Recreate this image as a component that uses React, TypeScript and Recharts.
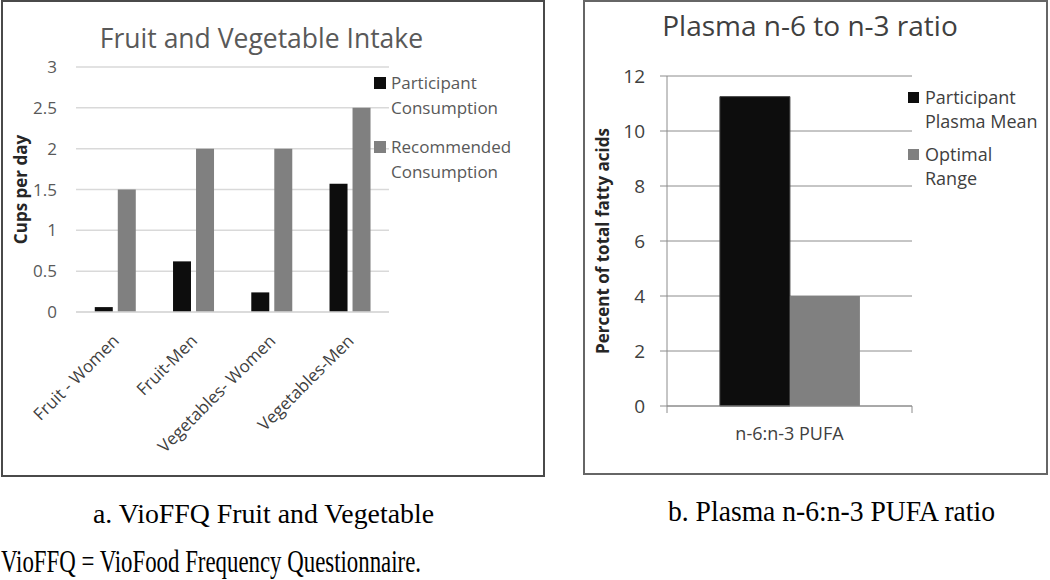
import React from "react";
import { BarChart, Bar, XAxis, YAxis, CartesianGrid, Legend } from "recharts";

// a. VioFFQ fruit and vegetable intake (cups per day)
const intakeCategories = ["Fruit - Women", "Fruit-Men", "Vegetables- Women", "Vegetables-Men"];
const intakeSeries = ["Participant Consumption", "Recommended Consumption"];
const participantCups = [0.06, 0.62, 0.24, 1.57];
const recommendedCups = [1.5, 2, 2, 2.5];
const cupTicks = [0, 0.5, 1, 1.5, 2, 2.5, 3];

// b. plasma n-6:n-3 ratio
const ratioCategories = ["n-6:n-3 PUFA"];
const ratioSeries = ["Participant Plasma Mean", "Optimal Range"];
const plasmaMean = [11.25];
const optimalRange = [4];
const ratioTicks = [0, 2, 4, 6, 8, 10, 12];

const intakeData = intakeCategories.map((name, i) => ({
  name,
  participant: participantCups[i],
  recommended: recommendedCups[i],
}));
const ratioData = ratioCategories.map((name, i) => ({
  name,
  mean: plasmaMean[i],
  optimal: optimalRange[i],
}));

const SANS = '"Open Sans", "DejaVu Sans", sans-serif';
const SERIF = '"Liberation Serif", "Times New Roman", serif';

type LegendOpts = {
  order: string[];
  fontSize: number;
  lineHeight: number;
  color: string;
  box: number;
  gap: number;
  textGap: number;
};

// two-line legend entries, split after the first word like the original
const makeLegend = (o: LegendOpts) => (props: any) => {
  const items = [...(props.payload ?? [])].sort(
    (a: any, b: any) => o.order.indexOf(String(a.value)) - o.order.indexOf(String(b.value))
  );
  return (
    <div style={{ fontFamily: SANS, fontSize: o.fontSize, lineHeight: `${o.lineHeight}px`, color: o.color, whiteSpace: "nowrap" }}>
      {items.map((item: any) => {
        const label = String(item.value);
        const cut = label.indexOf(" ");
        return (
          <div key={label} style={{ display: "flex", alignItems: "flex-start", marginBottom: o.gap }}>
            <span
              style={{
                width: o.box,
                height: o.box,
                background: item.color,
                marginTop: (o.lineHeight - o.box) / 2,
                marginRight: o.textGap,
                flexShrink: 0,
              }}
            />
            <span>
              {label.slice(0, cut)}
              <br />
              {label.slice(cut + 1)}
            </span>
          </div>
        );
      })}
    </div>
  );
};

const SlantTick = (props: any) => {
  const { x, y, payload } = props;
  return (
    <g transform={`translate(${x + 5},${y + 30}) rotate(-45)`}>
      <text x={0} y={0} textAnchor="end" fontFamily={SANS} fontSize={17} fill="#404040">
        {payload.value}
      </text>
    </g>
  );
};

// excel style: tick marks on the category edges, label in the middle
const EdgeTick = (props: any) => {
  const { x, y, payload, width, visibleTicksCount } = props;
  const half = width / (visibleTicksCount || 1) / 2;
  return (
    <g>
      <line x1={x - half} x2={x - half} y1={y} y2={y + 7} stroke="#8c8c8c" />
      <line x1={x + half} x2={x + half} y1={y} y2={y + 7} stroke="#8c8c8c" />
      <text x={x} y={y + 28} dy="0.35em" textAnchor="middle" fontFamily={SANS} fontSize={18} fill="#404040">
        {payload.value}
      </text>
    </g>
  );
};

const yLabel = (text: string, cx: number) => (props: any) => {
  const vb = props.viewBox;
  const cy = vb.y + vb.height / 2;
  return (
    <text
      x={cx}
      y={cy}
      transform={`rotate(-90, ${cx}, ${cy})`}
      textAnchor="middle"
      dominantBaseline="central"
      fontFamily={SANS}
      fontSize={17}
      fontWeight={700}
      fill="#262626"
    >
      {text}
    </text>
  );
};

export default function App() {
  return (
    <div style={{ position: "absolute", left: 0, top: 0, width: 1050, height: 580, background: "#fff" }}>
      {/* left panel */}
      <div style={{ position: "absolute", left: 0, top: 0 }}>
        <BarChart
          width={545}
          height={478}
          data={intakeData}
          margin={{ top: 67, right: 156, bottom: 0, left: 0 }}
          barCategoryGap="24%"
          barGap={5}
        >
          <CartesianGrid vertical={false} stroke="#d9d9d9" strokeWidth={1.5} />
          <XAxis
            dataKey="name"
            height={166}
            interval={0}
            axisLine={{ stroke: "#d9d9d9", strokeWidth: 1.5 }}
            tickLine={false}
            tickSize={0}
            tickMargin={0}
            tick={<SlantTick />}
          />
          <YAxis
            width={76}
            domain={[0, 3]}
            ticks={cupTicks}
            axisLine={false}
            tickLine={false}
            tickSize={0}
            tickMargin={19}
            tick={{ fontFamily: SANS, fontSize: 17, fill: "#595959" }}
            label={{ content: yLabel("Cups per day", 20) }}
          />
          <Legend
            layout="vertical"
            align="center"
            verticalAlign="middle"
            wrapperStyle={{ left: 374, top: 70, width: "auto" }}
            content={makeLegend({ order: intakeSeries, fontSize: 17, lineHeight: 25, color: "#595959", box: 12, gap: 14, textGap: 5 })}
          />
          <Bar dataKey="participant" name={intakeSeries[0]} fill="#0d0d0d" isAnimationActive={false} />
          <Bar dataKey="recommended" name={intakeSeries[1]} fill="#808080" isAnimationActive={false} />
        </BarChart>
        <div
          style={{
            position: "absolute",
            left: 0,
            top: 20,
            width: 523,
            textAlign: "center",
            fontFamily: SANS,
            fontSize: 26.5,
            color: "#595959",
            whiteSpace: "nowrap",
          }}
        >
          Fruit and Vegetable Intake
        </div>
        <div
          style={{
            position: "absolute",
            left: 1,
            top: 0,
            width: 544,
            height: 477,
            border: "2px solid #4a4a4a",
            boxSizing: "border-box",
            pointerEvents: "none",
          }}
        />
      </div>

      {/* right panel */}
      <div style={{ position: "absolute", left: 583, top: 0 }}>
        <BarChart
          width={467}
          height={476}
          data={ratioData}
          margin={{ top: 76, right: 138, bottom: 0, left: 0 }}
          barCategoryGap="21.6%"
          barGap={0}
        >
          <CartesianGrid vertical={false} stroke="#8c8c8c" />
          <XAxis
            dataKey="name"
            height={70}
            interval={0}
            axisLine={{ stroke: "#8c8c8c" }}
            tickLine={false}
            tickSize={0}
            tickMargin={0}
            tick={<EdgeTick />}
          />
          <YAxis
            width={84}
            domain={[0, 12]}
            ticks={ratioTicks}
            axisLine={{ stroke: "#8c8c8c" }}
            tickLine={{ stroke: "#8c8c8c" }}
            tickSize={7}
            tickMargin={15}
            tick={{ fontFamily: SANS, fontSize: 19, fill: "#404040" }}
            label={{ content: yLabel("Percent of total fatty acids", 19) }}
          />
          <Legend
            layout="vertical"
            align="center"
            verticalAlign="middle"
            wrapperStyle={{ left: 325, top: 85, width: "auto" }}
            content={makeLegend({ order: ratioSeries, fontSize: 18, lineHeight: 24, color: "#404040", box: 11, gap: 9, textGap: 6 })}
          />
          <Bar dataKey="mean" name={ratioSeries[0]} fill="#0d0d0d" stroke="#404040" isAnimationActive={false} />
          <Bar dataKey="optimal" name={ratioSeries[1]} fill="#808080" isAnimationActive={false} />
        </BarChart>
        <div
          style={{
            position: "absolute",
            left: 0,
            top: 6,
            width: 454,
            textAlign: "center",
            fontFamily: SANS,
            fontSize: 28,
            color: "#404040",
            whiteSpace: "nowrap",
          }}
        >
          Plasma n-6 to n-3 ratio
        </div>
        <div
          style={{
            position: "absolute",
            left: 0,
            top: 0,
            width: 465,
            height: 475,
            border: "2px solid #666",
            boxSizing: "border-box",
            pointerEvents: "none",
          }}
        />
      </div>

      {/* captions: the source scan squeezes these a little, so fit them to their widths */}
      <svg width={1050} height={580} style={{ position: "absolute", left: 0, top: 0, pointerEvents: "none" }}>
        <g fontFamily={SERIF} fill="#000">
          <text x={93} y={523} fontSize={28} textLength={341} lengthAdjust="spacingAndGlyphs">
            a. VioFFQ Fruit and Vegetable
          </text>
          <text x={668} y={521} fontSize={29} textLength={327} lengthAdjust="spacingAndGlyphs">
            b. Plasma n-6:n-3 PUFA ratio
          </text>
          <text x={1} y={572} fontSize={31} textLength={420} lengthAdjust="spacingAndGlyphs">
            VioFFQ = VioFood Frequency Questionnaire.
          </text>
        </g>
      </svg>
    </div>
  );
}
